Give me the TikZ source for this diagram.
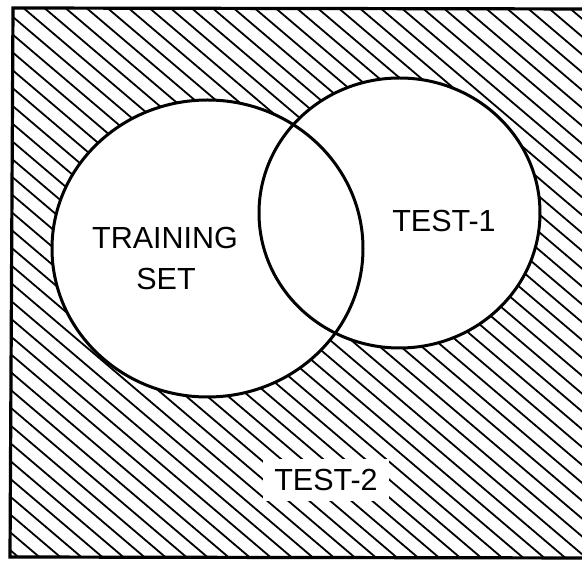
\documentclass[tikz,border=0pt]{standalone}
\usepackage{fontspec}
\setmainfont{Liberation Sans}
\begin{document}
\begin{tikzpicture}[x=1pt,y=-1pt,
  hatch/.style={line width=1.8pt,black},
  ring/.style={line width=3pt,black},
  frameline/.style={line width=3.2pt,black,line cap=round},
  lbl/.style={font=\fontsize{30.5}{36}\selectfont,align=center,inner sep=0pt}]
\useasboundingbox (0,0) rectangle (582,561);
\clip (0,0) rectangle (582,561);
% hatching inside frame
\begin{scope}
  \clip (13,8) -- (600,9) -- (600,558) -- (10,557) -- cycle;
  \foreach \c in {-700,-679,...,620} \draw[hatch] (\c,0) -- ++(700,595);
\end{scope}
% frame
\coordinate (tl) at (13,8);
\coordinate (tr) at (600,9);
\coordinate (bl) at (10,557);
\coordinate (br) at (600,558);
\draw[frameline] (tr) -- (tl) -- (bl) -- (br);
% circles
\fill[white] (207.5,248.5) ellipse [x radius=155.5, y radius=148.5];
\fill[white] (399.5,213) ellipse [x radius=140.5, y radius=135];
\draw[ring] (207.5,248.5) ellipse [x radius=155.5, y radius=148.5];
\draw[ring] (399.5,213) ellipse [x radius=140.5, y radius=135];
% labels
\node[lbl] (train) at (165,238) {TRAINING};
\node[lbl] (set) at (166,279) {SET};
\node[lbl] (test1) at (444,221) {TEST-1};
\node[lbl,fill=white,inner xsep=11pt,inner ysep=10pt] (test2) at (326,480) {TEST-2};
\end{tikzpicture}
\end{document}
